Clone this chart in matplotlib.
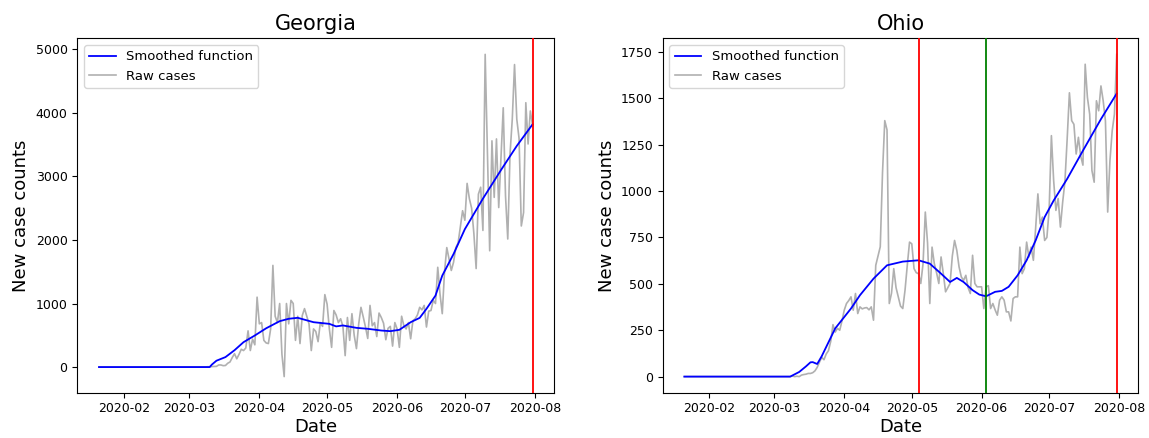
import matplotlib
matplotlib.use("Agg")
import matplotlib.pyplot as plt
import pandas as pd

# ---------------- data ----------------
start_date = "2020-01-21"
end_date = "2020-07-31"

# Georgia raw daily new cases
ga_jan = [0] * 11
ga_feb = [0] * 29
ga_mar = [0, 2, 0, 0, 0, 2, 2, 1, 5, 5, 8, 9, 11, 33, 33, 22, 25, 60, 80, 150,
          210, 130, 200, 280, 260, 300, 570, 260, 440, 350, 1100]
ga_apr = [680, 700, 420, 380, 370, 600, 1600, 800, 700, 1000,
          200, -150, 1000, 680, 1050, 1000, 420, 800, 370, 810,
          920, 800, 680, 260, 600, 560, 400, 700, 640, 1140]
ga_may = [990, 600, 310, 890, 820, 700, 760, 640, 180, 780,
          420, 840, 500, 290, 680, 940, 790, 630, 450, 970,
          650, 700, 480, 850, 780, 690, 430, 610, 640, 330, 700]
ga_jun = [600, 310, 800, 650, 600, 700, 445, 730, 760, 820,
          940, 900, 970, 630, 880, 890, 1050, 1000, 1570, 1150,
          840, 1500, 1880, 1700, 1520, 1650, 1880, 1950, 2200, 2460]
ga_jul = [2310, 2890, 2650, 2500, 2100, 1550, 2720, 2830, 2150, 4920,
          3400, 1830, 3560, 2670, 3590, 2510, 3300, 4080, 2700, 2015,
          3350, 3900, 4760, 3900, 3600, 2220, 2430, 4160, 3510, 4030, 3800]

ga_smooth_dates = ["2020-01-21", "2020-03-10", "2020-03-11", "2020-03-13", "2020-03-17",
                   "2020-03-21", "2020-03-25", "2020-03-30", "2020-04-04", "2020-04-10",
                   "2020-04-14", "2020-04-18", "2020-04-25", "2020-05-02", "2020-05-05",
                   "2020-05-08", "2020-05-14", "2020-05-19", "2020-05-25", "2020-05-29",
                   "2020-06-02", "2020-06-07", "2020-06-11", "2020-06-14", "2020-06-18",
                   "2020-06-21", "2020-06-26", "2020-07-01", "2020-07-09", "2020-07-17",
                   "2020-07-24", "2020-07-31"]
ga_smooth = [0, 0, 40, 100, 157, 265, 392, 497, 610, 722,
             760, 775, 706, 680, 640, 655, 617, 602, 575, 565,
             586, 706, 774, 916, 1125, 1439, 1779, 2170, 2650, 3100,
             3480, 3820]

# Ohio raw daily new cases
oh_jan = [0] * 11
oh_feb = [0] * 29
oh_mar = [0, 0, 0, 0, 0, 0, 0, 0, 3, 0, 2, 0, 8, 11, 13, 17, 17, 21, 31, 50,
          78, 104, 91, 122, 140, 190, 280, 240, 260, 250, 300]
oh_apr = [358, 394, 410, 430, 358, 448, 340, 376, 365, 370,
          372, 360, 376, 304, 600, 650, 700, 1100, 1380, 1330,
          394, 450, 582, 480, 430, 380, 367, 466, 600, 725]
oh_may = [716, 582, 560, 555, 502, 609, 887, 720, 394, 698,
          609, 560, 502, 645, 555, 457, 480, 502, 650, 734,
          680, 591, 537, 519, 546, 480, 448, 654, 502, 484, 484]
oh_jun = [484, 367, 484, 490, 367, 394, 360, 331, 412, 430,
          412, 349, 349, 300, 421, 430, 430, 698, 555, 582,
          725, 645, 698, 627, 800, 985, 824, 860, 734, 750]
oh_jul = [900, 1299, 1057, 896, 960, 806, 940, 1050, 1280, 1530,
          1380, 1360, 1200, 1290, 1190, 1140, 1684, 1505, 1415, 1111,
          1048, 1487, 1433, 1567, 1487, 1379, 887, 1164, 1325, 1415, 1737]

oh_smooth_dates = ["2020-01-21", "2020-03-08", "2020-03-12", "2020-03-15", "2020-03-17",
                   "2020-03-18", "2020-03-20", "2020-03-22", "2020-03-25", "2020-03-28",
                   "2020-04-04", "2020-04-08", "2020-04-14", "2020-04-20", "2020-04-27",
                   "2020-05-04", "2020-05-09", "2020-05-14", "2020-05-18", "2020-05-21",
                   "2020-05-24", "2020-05-28", "2020-05-31", "2020-06-03", "2020-06-07",
                   "2020-06-10", "2020-06-13", "2020-06-17", "2020-06-21", "2020-06-25",
                   "2020-06-29", "2020-07-03", "2020-07-09", "2020-07-16", "2020-07-24",
                   "2020-07-31"]
oh_smooth = [0, 0, 25, 55, 77, 78, 68, 110, 185, 260,
             367, 439, 528, 600, 620, 627, 609, 555, 510, 532,
             510, 466, 442, 433, 457, 462, 484, 546, 627, 734,
             860, 949, 1066, 1218, 1388, 1526]

ga_red_lines = ["2020-07-31"]
ga_green_lines = []
oh_red_lines = ["2020-05-04", "2020-07-31"]
oh_green_lines = ["2020-06-03"]

ga_yticks = [0, 1000, 2000, 3000, 4000, 5000]
oh_yticks = [0, 250, 500, 750, 1000, 1250, 1500, 1750]

titles = ["Georgia", "Ohio"]

# ---------------- plot ----------------
dates = pd.date_range(start_date, end_date, freq="D")
ga_raw = ga_jan + ga_feb + ga_mar + ga_apr + ga_may + ga_jun + ga_jul
oh_raw = oh_jan + oh_feb + oh_mar + oh_apr + oh_may + oh_jun + oh_jul

fig = plt.figure(figsize=(11.49, 4.38), dpi=100)
ax1 = fig.add_axes([0.0673, 0.1034, 0.4151, 0.8092])
ax2 = fig.add_axes([0.5768, 0.1034, 0.4139, 0.8092])

panels = [
    (ax1, ga_raw, ga_smooth_dates, ga_smooth, ga_red_lines, ga_green_lines, ga_yticks),
    (ax2, oh_raw, oh_smooth_dates, oh_smooth, oh_red_lines, oh_green_lines, oh_yticks),
]

for (ax, raw, sd, sv, reds, greens, yt), title in zip(panels, titles):
    ax.plot(pd.to_datetime(sd), sv, color="blue", lw=1.3, label="Smoothed function", zorder=3)
    ax.plot(dates, raw, color="#b0b0b0", lw=1.2, label="Raw cases", zorder=2)
    for d in reds:
        ax.axvline(pd.Timestamp(d), color="red", lw=1.3, zorder=4)
    for d in greens:
        ax.axvline(pd.Timestamp(d), color="green", lw=1.3, zorder=4)
    ax.set_yticks(yt)
    ax.set_title(title, fontsize=15)
    ax.set_xlabel("Date", fontsize=13, labelpad=2)
    ax.set_ylabel("New case counts", fontsize=13)
    ax.tick_params(labelsize=9)
    ax.legend(loc="upper left", fontsize=9.5)

fig.savefig("out.png", dpi=100)
